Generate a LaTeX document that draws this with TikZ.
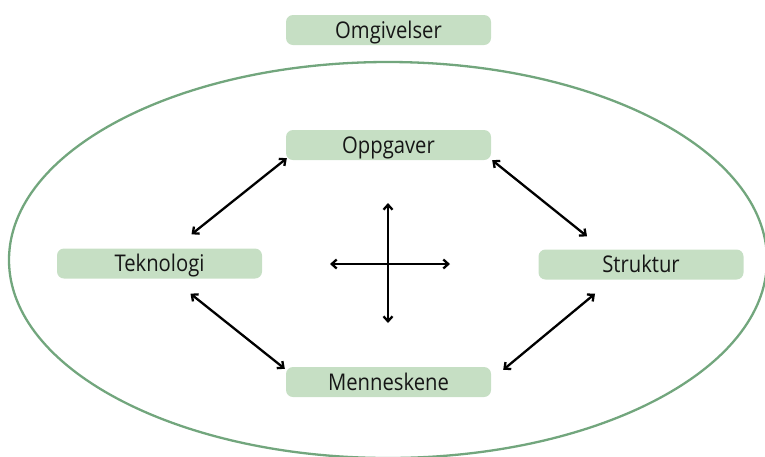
\documentclass[tikz,border=0pt]{standalone}
\usepackage{fontspec}
\setmainfont[FakeStretch=0.88]{Open Sans}
\usetikzlibrary{arrows.meta}
\definecolor{boxgreen}{HTML}{C6DFC4}
\definecolor{ringgreen}{HTML}{72A67D}
\definecolor{txt}{HTML}{161616}
\tikzset{
  box/.style={fill=boxgreen, rounded corners=7pt, minimum width=205pt, minimum height=30pt,
    inner sep=0pt, text height=18pt, text depth=2pt, text=txt, font=\fontsize{23pt}{25pt}\selectfont},
  arr/.style={line width=2.3pt, {Straight Barb[length=5pt,width=9pt]}-{Straight Barb[length=5pt,width=9pt]}},
  ring/.style={draw=ringgreen, line width=2.3pt}
}
\begin{document}
\begin{tikzpicture}[x=1pt,y=-1pt]
\useasboundingbox (0,0) rectangle (765,456);
\clip (0,0) rectangle (765,456);
\draw[ring] (388,260) ellipse [x radius=379, y radius=198];
\node[box] (omg) at (388.5,30) {Omgivelser};
\node[box] (opp) at (388.5,145) {Oppgaver};
\node[box] (tek) at (159.5,263.5) {Teknologi};
\node[box] (str) at (641,264.5) {Struktur};
\node[box] (men) at (388.5,382) {Menneskene};
\draw[arr] ([xshift=32pt,yshift=14pt]tek.north) -- ([xshift=1pt,yshift=2pt]opp.south west);
\draw[arr] ([xshift=1pt]opp.south east) -- ([xshift=-54pt,yshift=13pt]str.north);
\draw[arr] ([xshift=31pt,yshift=-15pt]tek.south) -- ([xshift=-1pt,yshift=-2pt]men.north west);
\draw[arr] ([xshift=-46pt,yshift=-14pt]str.south) -- ([xshift=12pt,yshift=-3pt]men.north east);
\coordinate (c) at (388,264);
\draw[arr] ([yshift=61pt]c) -- ([yshift=-59pt]c);
\draw[arr] ([xshift=-58pt]c) -- ([xshift=62pt]c);
\end{tikzpicture}
\end{document}
